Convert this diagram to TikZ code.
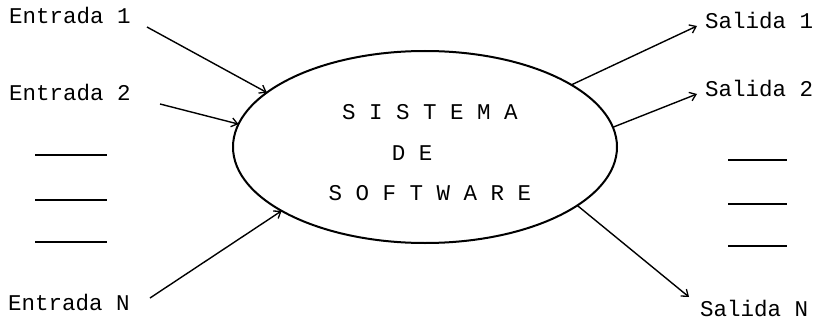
\documentclass[tikz,border=0pt]{standalone}
\usepackage{fontspec}
\setmonofont{Liberation Mono}
\usetikzlibrary{arrows.meta,shapes.geometric}
\begin{document}
\begin{tikzpicture}[x=1pt,y=-1pt,
  lbl/.style={font=\ttfamily\fontsize{22.5}{24}\selectfont, inner sep=0pt, anchor=west},
  ctext/.style={font=\ttfamily\fontsize{22.5}{24}\selectfont, inner sep=0pt},
  flow/.style={line width=1.4pt, -{Straight Barb[length=6pt,width=9pt,line width=1.3pt]}},
  dashline/.style={line width=1.7pt},
  sysbox/.style={ellipse, draw, line width=2pt, minimum width=384pt, minimum height=192pt, inner sep=0pt, outer sep=0pt}]
\useasboundingbox (0,0) rectangle (816,321);
\node[sysbox] (sys) at (425,147) {};
\node[ctext] (t1) at (430,112) {S I S T E M A};
\node[ctext] (t2) at (412,153) {D E};
\node[ctext] (t3) at (430,193) {S O F T W A R E};
% inputs
\node[lbl] (e1) at (9,15) {Entrada 1};
\node[lbl] (e2) at (9,92) {Entrada 2};
\node[lbl] (en) at (8,302) {Entrada N};
\coordinate (e1s) at (147,27);
\coordinate (e2s) at (160,104);
\coordinate (ens) at (150,298);
\draw[flow] (e1s) -- (sys.161);
\draw[flow] (e2s) -- (sys.173);
\draw[flow] (ens) -- (sys.204);
% outputs
\node[lbl] (s1) at (705,20) {Salida 1};
\node[lbl] (s2) at (705,88) {Salida 2};
\node[lbl] (sn) at (700,308) {Salida N};
\coordinate (s1e) at (697,26);
\coordinate (s2e) at (697,94);
\coordinate (sne) at (689,297);
\draw[flow] (sys.23) -- (s1e);
\draw[flow] (sys.6) -- (s2e);
\draw[flow] (sys.-21) -- (sne);
% ellipsis dashes
\draw[dashline] (35,155) -- (107,155);
\draw[dashline] (35,200) -- (107,200);
\draw[dashline] (35,242) -- (107,242);
\draw[dashline] (728,160) -- (787,160);
\draw[dashline] (728,204) -- (787,204);
\draw[dashline] (728,246) -- (787,246);
\end{tikzpicture}
\end{document}
